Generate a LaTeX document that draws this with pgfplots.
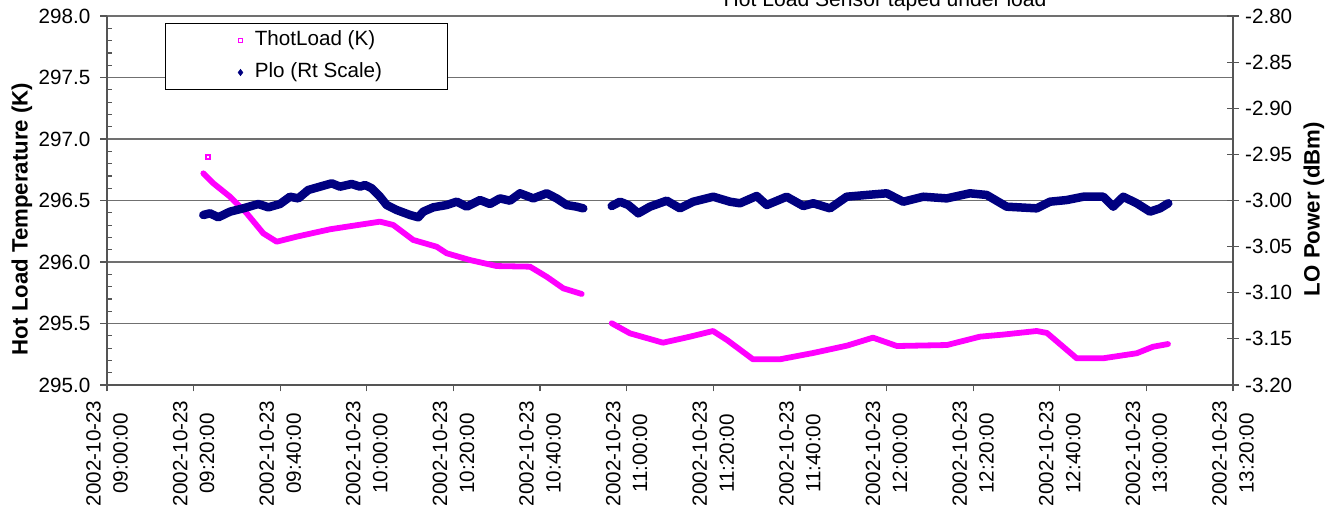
\documentclass[border=0pt]{standalone}
\usepackage{pgfplots}
\pgfplotsset{compat=1.18}
\usepackage{pgfplotstable}
\usepackage{fontspec}
\setmainfont{Liberation Sans}

\definecolor{thot}{HTML}{FF00FF}
\definecolor{plo}{HTML}{000080}
\definecolor{axgray}{HTML}{555555}
\definecolor{gridgray}{HTML}{707070}

% minutes after 09:00:00 on 2002-10-23, hot load temperature (K)
\pgfplotstableread{
t      v
22.24  296.721
24.55  296.640
28.40  296.531
32.26  296.396
36.09  296.233
39.18  296.165
43.80  296.206
51.49  296.266
56.87  296.295
63.04  296.328
66.11  296.301
70.73  296.179
76.13  296.124
78.44  296.071
83.82  296.016
89.98  295.967
97.67  295.962
101.53 295.880
105.36 295.786
109.61 295.740
113.00 nan
116.54 295.502
120.76 295.420
128.38 295.344
134.62 295.393
139.93 295.439
143.16 295.366
149.16 295.209
155.40 295.209
163.02 295.260
170.87 295.320
176.87 295.385
182.41 295.317
193.96 295.325
201.58 295.393
207.00 295.410
214.67 295.439
217.05 295.423
223.91 295.217
229.98 295.217
237.76 295.258
241.53 295.311
244.99 295.333
}\thotdata

% minutes after 09:00:00, LO power (dBm)
\pgfplotstableread{
t      p
22.24  -3.0157
23.78  -3.0139
25.70  -3.0182
28.40  -3.0121
31.47  -3.0085
34.94  -3.0038
37.25  -3.0074
39.95  -3.0038
42.26  -2.9959
44.17  -2.9977
46.48  -2.9886
49.18  -2.9850
51.88  -2.9814
53.80  -2.9850
56.50  -2.9821
58.42  -2.9850
59.57  -2.9832
61.12  -2.9868
63.04  -2.9959
64.58  -3.0049
66.89  -3.0103
69.96  -3.0157
71.88  -3.0182
73.03  -3.0121
75.34  -3.0074
78.44  -3.0049
80.75  -3.0013
83.06  -3.0067
86.13  -2.9995
88.44  -3.0038
90.74  -2.9977
93.05  -3.0002
95.36  -2.9922
98.44  -2.9977
101.53 -2.9922
103.84 -2.9977
106.15 -3.0049
108.46 -3.0067
109.98 -3.0085
113.00 nan
116.54 -3.0060
118.45 -3.0013
120.37 -3.0049
122.68 -3.0139
125.38 -3.0067
129.24 -3.0002
132.31 -3.0085
135.38 -3.0013
140.00 -2.9959
143.85 -3.0013
146.16 -3.0030
150.02 -2.9951
152.33 -3.0049
156.94 -2.9959
160.78 -3.0060
163.09 -3.0030
166.95 -3.0085
170.80 -2.9959
175.42 -2.9940
180.03 -2.9922
183.87 -3.0013
188.49 -2.9959
193.89 -2.9977
199.27 -2.9922
203.13 -2.9940
207.74 -3.0067
214.67 -3.0085
217.74 -3.0013
221.60 -2.9995
225.43 -2.9959
230.05 -2.9959
232.36 -3.0067
234.67 -2.9959
237.76 -3.0030
240.84 -3.0121
243.15 -3.0085
245.06 -3.0030
}\plodata

\pgfplotsset{
  thotleg/.style={legend image code/.code={
      \path[draw=none] (0bp,0bp) -- (75bp,0bp);
      \path[draw=thot, line width=1.2bp, mark=square, mark size=2bp] plot coordinates {(75bp,0bp)};}},
  ploleg/.style={legend image code/.code={
      \path[draw=none] (0bp,0bp) -- (75bp,0bp);
      \path[draw=plo, fill=plo, line width=0.5bp, mark=diamond*, mark size=3.2bp] plot coordinates {(75bp,0bp)};}},
}

\begin{document}
\fontsize{20.7}{27}\selectfont
\begin{tikzpicture}
\begin{axis}[
  scale only axis, width=1126bp, height=369bp,
  xmin=0, xmax=260, ymin=295, ymax=298,
  axis x line*=bottom, axis y line*=left,
  axis line style={-, axgray, line width=1.2bp},
  every tick/.style={axgray, line width=1.2bp},
  xtick={0,20,...,260},
  xticklabels={
    {2002-10-23\\09:00:00},{2002-10-23\\09:20:00},{2002-10-23\\09:40:00},
    {2002-10-23\\10:00:00},{2002-10-23\\10:20:00},{2002-10-23\\10:40:00},
    {2002-10-23\\11:00:00},{2002-10-23\\11:20:00},{2002-10-23\\11:40:00},
    {2002-10-23\\12:00:00},{2002-10-23\\12:20:00},{2002-10-23\\12:40:00},
    {2002-10-23\\13:00:00},{2002-10-23\\13:20:00}},
  xticklabel style={yshift=-9bp, rotate=90, anchor=east, align=center, inner sep=0pt},
  ytick={295,295.5,296,296.5,297,297.5,298},
  minor y tick num=4,
  ymajorgrids, grid style={gridgray, line width=1.2bp},
  tick align=outside, major tick length=6.5bp, minor tick length=5bp,
  minor y tick style={xshift=5bp},
  yticklabel style={anchor=east, inner sep=0pt, xshift=-10bp,
    /pgf/number format/fixed, /pgf/number format/fixed zerofill,
    /pgf/number format/precision=1},
  /pgf/number format/assume math mode=true,
  ylabel={\fontsize{22.3}{27}\selectfont\bfseries Hot Load Temperature (K)},
  ylabel style={at={(axis description cs:-0.0755,0.45)}, anchor=center},
  title={\fontsize{21.2}{27}\selectfont Hot Load Sensor taped under load},
  every axis title shift=0pt,
  title style={at={(axis description cs:0.691,1.0257)}, anchor=base, inner sep=0pt},
  legend style={at={(axis description cs:0.0515,0.981)}, anchor=north west,
    draw=black, line width=1bp, fill=white, inner xsep=0pt, inner ysep=7bp,
    row sep=12bp, column sep=12bp,
    nodes={inner sep=0pt, text height=15bp, text depth=5bp}},
  legend cell align=left,
]
\coordinate (sw) at (rel axis cs:0,0);
\addplot[thot, line width=5.8bp, line join=round, line cap=round, unbounded coords=jump, forget plot]
  table[x=t, y=v] {\thotdata};
\addplot[thot, only marks, mark=square, mark size=2bp, line width=1.2bp, forget plot]
  coordinates {(23.32,296.854)};
\addlegendimage{thotleg}
\addlegendentry{\makebox[193bp][l]{ThotLoad (K)}}
\addlegendimage{ploleg}
\addlegendentry{\makebox[193bp][l]{Plo (Rt Scale)}}
\end{axis}

\begin{axis}[
  scale only axis, width=1126bp, height=369bp,
  xmin=0, xmax=260, ymin=-3.2, ymax=-2.8,
  axis x line=none, axis y line*=right,
  axis line style={-, axgray, line width=1.2bp},
  every tick/.style={axgray, line width=1.2bp},
  ytick={-3.2,-3.15,-3.1,-3.05,-3,-2.95,-2.9,-2.85,-2.8},
  tick align=center, major tick length=12bp,
  /pgf/number format/assume math mode=true,
  yticklabel style={anchor=west, inner sep=0pt, xshift=6bp,
    /pgf/number format/fixed, /pgf/number format/fixed zerofill,
    /pgf/number format/precision=2},
  ylabel={\fontsize{22.3}{27}\selectfont\bfseries LO Power (dBm)},
  ylabel style={at={(axis description cs:1.0719,0.477)}, anchor=center},
]
\addplot[plo, line width=8.5bp, line join=round, line cap=round, unbounded coords=jump]
  table[x=t, y=p] {\plodata};
\end{axis}

\pgfresetboundingbox
\path[use as bounding box] ([shift={(-107bp,-127bp)}]sw) rectangle ([shift={(1230bp,385bp)}]sw);
\end{tikzpicture}
\end{document}
